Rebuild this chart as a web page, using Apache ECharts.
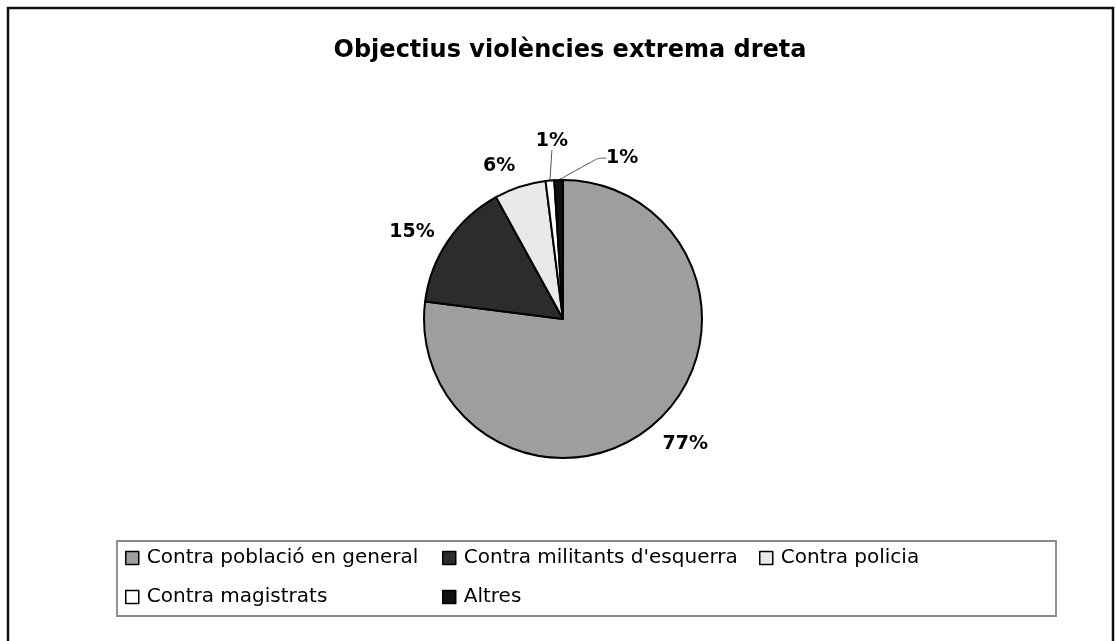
<!DOCTYPE html>
<html>
<head>
<meta charset="utf-8">
<script src="https://cdn.jsdelivr.net/npm/echarts@6/dist/echarts.min.js"></script>
<style>
  html, body { margin: 0; padding: 0; background: #fff; }
  #chart { width: 1116px; height: 641px; }
</style>
</head>
<body>
<div id="chart"></div>
<script>
// ---- data ----
const titleText = 'Objectius violències extrema dreta';
const categories = ['Contra població en general', "Contra militants d'esquerra", 'Contra policia', 'Contra magistrats', 'Altres'];
const values = [77, 15, 6, 1, 1];
// legend columns (Excel lays the entries out in equal-width columns, row by row)
const legendColumns = [
  [categories[0], categories[3]],
  [categories[1], categories[4]],
  [categories[2]]
];

// ---- style ----
const sliceColors = ['#9e9e9e', '#2c2c2c', '#e9e9e9', '#ffffff', '#111111'];
const FONT = 'DejaVu Sans';
const legendColumnLeft = [125, 442, 759];
// per-slice label placement (labelLine length, length2, extra shift)
const labelStyle = [
  { len: 28, len2: -16, line: false },
  { len: 16, len2: -5, line: false },
  { len: 22, len2: -7, line: false },
  { len: 20, len2: 0, line: true, shift: [25, -20] },
  { len: 10, len2: 8, line: true, shift: [93, -12] }
];

const chart = echarts.init(document.getElementById('chart'), null, { renderer: 'canvas' });

const pieData = categories.map(function (name, i) {
  const ls = labelStyle[i];
  return {
    name: name,
    value: values[i],
    itemStyle: { color: sliceColors[i] },
    labelLine: { show: ls.line, length: ls.len, length2: ls.len2 }
  };
});

const legends = legendColumns.map(function (col, i) {
  return {
    left: legendColumnLeft[i],
    top: 548,
    padding: 0,
    orient: 'vertical',
    itemWidth: 13,
    itemHeight: 13,
    itemGap: 19,
    icon: 'rect',
    itemStyle: { borderColor: '#000', borderWidth: 1.5 },
    textStyle: { fontFamily: FONT, fontSize: 20, color: '#000', padding: [0, 0, 0, 3] },
    selectedMode: false,
    data: col
  };
});

chart.setOption({
  animation: false,
  backgroundColor: '#fff',
  title: {
    text: titleText,
    left: 565,
    textAlign: 'center',
    top: 34,
    textStyle: { fontFamily: FONT, fontSize: 24, fontWeight: 'bold', color: '#000' }
  },
  graphic: [
    { type: 'rect', z: -1, shape: { x: 8, y: 8, width: 1105, height: 700 },
      style: { fill: 'none', stroke: '#111', lineWidth: 2.5 } },
    { type: 'rect', z: -1, shape: { x: 117, y: 541, width: 939, height: 75 },
      style: { fill: '#fff', stroke: '#888', lineWidth: 1.8 } }
  ],
  legend: legends,
  series: [{
    type: 'pie',
    center: [563, 319],
    radius: 139,
    startAngle: 90,
    clockwise: true,
    avoidLabelOverlap: false,
    data: pieData,
    itemStyle: { borderColor: '#000', borderWidth: 2 },
    emphasis: { disabled: true },
    label: {
      show: true,
      position: 'outside',
      fontFamily: FONT,
      fontSize: 19,
      fontWeight: 'bold',
      color: '#000',
      formatter: function (p) { return Math.round(p.percent) + '%'; }
    },
    labelLine: { lineStyle: { color: '#555', width: 1 }, smooth: 0.3 },
    labelLayout: function (p) {
      const ls = labelStyle[p.dataIndex];
      if (!ls || !ls.shift) return {};
      const r = p.labelRect;
      return {
        x: r.x + r.width / 2 + ls.shift[0],
        y: r.y + r.height / 2 + ls.shift[1],
        align: 'center',
        verticalAlign: 'middle'
      };
    }
  }]
});
</script>
</body>
</html>
